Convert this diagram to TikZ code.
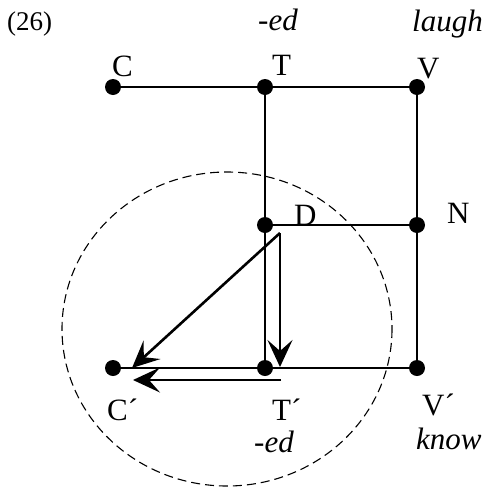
\documentclass[tikz,border=0pt]{standalone}
\usepackage{fontspec}
\setmainfont{Liberation Serif}
\usetikzlibrary{arrows.meta}
\begin{document}
\begin{tikzpicture}[x=1pt,y=-1pt,
  dot/.style={circle,fill=black,inner sep=0pt,minimum size=16pt},
  lbl/.style={inner sep=0pt,font=\fontsize{31}{34}\selectfont},
  ital/.style={lbl,font=\fontsize{31}{34}\selectfont\itshape},
  edge/.style={line width=2.6pt},
  mv/.style={line width=2.6pt,-{Stealth[length=27pt,width=25pt,inset=11pt]}}]
\useasboundingbox (0,0) rectangle (487,488);
% ellipse
\draw[line width=1.1pt,dash pattern=on 9pt off 5pt] (227,329) ellipse [x radius=165, y radius=157];
% dots
\node[dot] (C) at (113,87) {};
\node[dot] (T) at (265,87) {};
\node[dot] (V) at (417,87) {};
\node[dot] (D) at (265,225) {};
\node[dot] (N) at (417,225) {};
\node[dot] (C2) at (113,368) {};
\node[dot] (T2) at (265,368) {};
\node[dot] (V2) at (417,368) {};
% edges
\draw[edge] (C) -- (T);
\draw[edge] (T) -- (V);
\draw[edge] (T) -- (D);
\draw[edge] (V) -- (N);
\draw[edge] (D) -- (N);
\draw[edge] (D) -- (T2);
\draw[edge] (N) -- (V2);
\draw[edge] (C2) -- (T2);
\draw[edge] (T2) -- (V2);
% movement arrows
\coordinate (s) at (280,233);
\coordinate (tipdiag) at (132,368);
\coordinate (tipdown) at (280,367);
\coordinate (h0) at (281,380);
\coordinate (h1) at (133,380);
\draw[mv] (s) -- (tipdiag);
\draw[mv] (s) -- (tipdown);
\draw[mv] (h0) -- (h1);
% labels
\node[inner sep=0pt,font=\fontsize{27}{30}\selectfont,anchor=base west] (num) at (7,30) {(26)};
\node[ital,anchor=base west] (ed1) at (258,30) {-ed};
\node[ital,anchor=base west] (laugh) at (412,31) {laugh};
\node[lbl,anchor=base west] (lC) at (112,76) {C};
\node[lbl,anchor=base west] (lT) at (272,75) {T};
\node[lbl,anchor=base west] (lV) at (417,78) {V};
\node[lbl,anchor=base west] (lD) at (294,225) {D};
\node[lbl,anchor=base west] (lN) at (447,223) {N};
\node[lbl,anchor=base west] (lC2) at (107,420) {C´};
\node[lbl,anchor=base west] (lT2) at (272,420) {T´};
\node[lbl,anchor=base west] (lV2) at (422,415) {V´};
\node[ital,anchor=base west] (ed2) at (254,452) {-ed};
\node[ital,anchor=base west] (know) at (416,449) {know};
\end{tikzpicture}
\end{document}
